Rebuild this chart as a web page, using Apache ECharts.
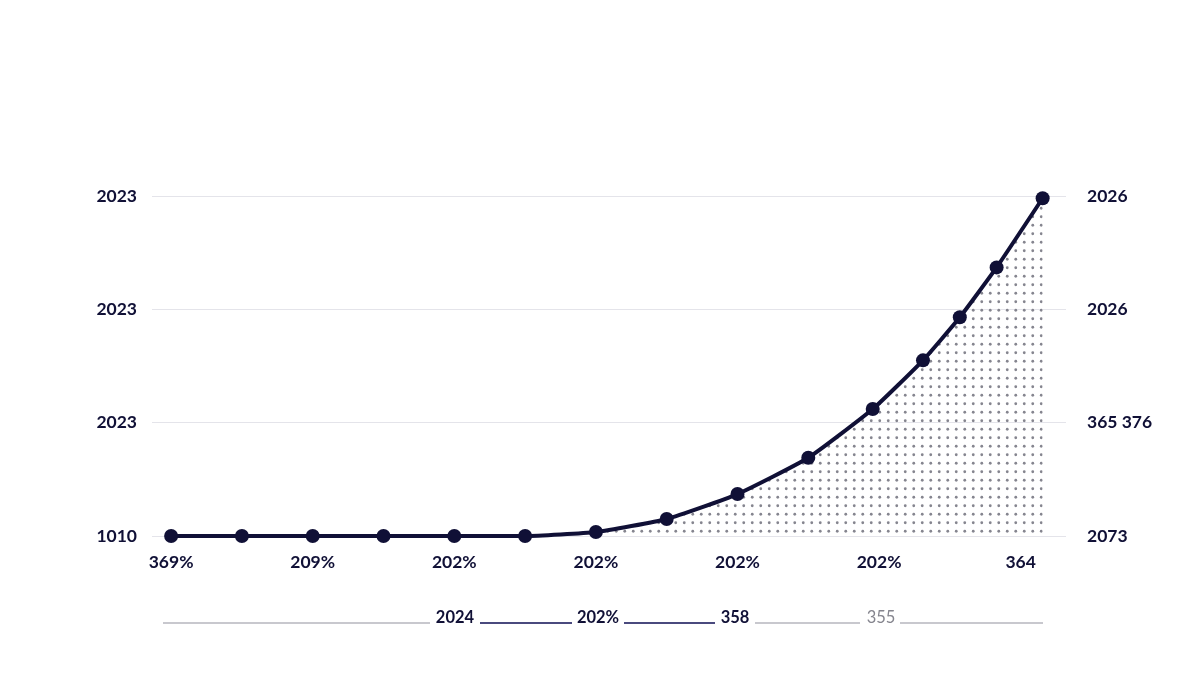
<!DOCTYPE html>
<html>
<head>
<meta charset="utf-8">
<script src="https://cdn.jsdelivr.net/npm/echarts@6/dist/echarts.min.js"></script>
<style>
html, body { margin: 0; padding: 0; background: #fff; }
#chart { width: 1200px; height: 678px; }
</style>
</head>
<body>
<div id="chart"></div>
<script>
// data
var xValues = [0, 1, 2, 3, 4, 5, 6, 7, 8, 9, 9.91, 10.62, 11.14, 11.66, 12.31];
var yValues = [0, 0, 0, 0, 0, 0, 0.035, 0.15, 0.37, 0.69, 1.12, 1.55, 1.93, 2.37, 2.98];
var xTickValues = [0, 2, 4, 6, 8, 10, 12];
var xTickLabels = ['369%', '209%', '202%', '202%', '202%', '202%', '364'];
var leftTickLabels = ['1010', '2023', '2023', '2023'];
var rightTickLabels = ['2073', '365 376', '2026', '2026'];
var legendLabels = ['2024', '202%', '358', '355'];

var ink = '#101036';
var font = 'Lato';

// dotted fill for the area
function dotPattern() {
    var c = document.createElement('canvas');
    c.width = 17;
    c.height = 17;
    var ctx = c.getContext('2d');
    ctx.fillStyle = '#85858f';
    [[4.25, 4.25], [12.75, 4.25], [4.25, 12.75], [12.75, 12.75]].forEach(function (p) {
        ctx.beginPath();
        ctx.arc(p[0], p[1], 1.4, 0, Math.PI * 2);
        ctx.fill();
    });
    return c;
}

var points = [];
for (var i = 0; i < xValues.length; i++) {
    points.push([xValues[i], yValues[i]]);
}

// bottom strip: line segments and labels between them
var stripY = 623;
var stripLines = [
    { x1: 163, x2: 430, color: '#c8c8ce' },
    { x1: 480, x2: 572, color: '#4a4a7e' },
    { x1: 624, x2: 715, color: '#4a4a7e' },
    { x1: 755, x2: 860, color: '#c8c8ce' },
    { x1: 900, x2: 1043, color: '#c8c8ce' }
];
var stripText = [
    { x: 455, color: ink, weight: 700 },
    { x: 598, color: ink, weight: 700 },
    { x: 735, color: ink, weight: 700 },
    { x: 881, color: '#85858e', weight: 400 }
];

var graphics = [];
stripLines.forEach(function (l) {
    graphics.push({
        type: 'line',
        shape: { x1: l.x1, y1: stripY, x2: l.x2, y2: stripY },
        style: { stroke: l.color, lineWidth: 2 }
    });
});
stripText.forEach(function (t, i) {
    graphics.push({
        type: 'text',
        x: t.x,
        y: 618,
        style: {
            text: legendLabels[i],
            fill: t.color,
            font: t.weight + ' 16.5px ' + font,
            textAlign: 'center',
            textVerticalAlign: 'middle'
        }
    });
});

var labelStyle = {
    color: ink,
    fontSize: 17.5,
    fontWeight: 700,
    fontFamily: font
};

var chart = echarts.init(document.getElementById('chart'));

chart.setOption({
    animation: false,
    backgroundColor: '#fff',
    grid: {
        left: 152,
        right: 134,
        top: 196,
        bottom: 142
    },
    xAxis: {
        type: 'value',
        min: -0.27,
        max: 12.64,
        axisLine: { show: false },
        axisTick: { show: false },
        splitLine: { show: false },
        axisLabel: $extend({
            customValues: xTickValues,
            margin: 17,
            formatter: function (v) {
                return xTickLabels[xTickValues.indexOf(v)];
            }
        })
    },
    yAxis: [{
        type: 'value',
        min: 0,
        max: 3,
        interval: 1,
        axisLine: { show: false },
        axisTick: { show: false },
        splitLine: {
            show: true,
            lineStyle: { color: '#e4e4ea', width: 1 }
        },
        axisLabel: $extend({
            margin: 15,
            formatter: function (v) {
                return leftTickLabels[Math.round(v)];
            }
        })
    }, {
        type: 'value',
        min: 0,
        max: 3,
        interval: 1,
        position: 'right',
        axisLine: { show: false },
        axisTick: { show: false },
        splitLine: { show: false },
        axisLabel: $extend({
            margin: 21,
            formatter: function (v) {
                return rightTickLabels[Math.round(v)];
            }
        })
    }],
    series: [{
        type: 'line',
        data: points,
        smooth: 0.15,
        symbol: 'circle',
        symbolSize: 14,
        lineStyle: { color: ink, width: 4 },
        itemStyle: { color: ink },
        areaStyle: {
            color: { image: dotPattern(), repeat: 'repeat' },
            opacity: 1
        },
        z: 3
    }],
    graphic: graphics
});

function $extend(o) {
    for (var k in labelStyle) {
        o[k] = labelStyle[k];
    }
    return o;
}
</script>
</body>
</html>
